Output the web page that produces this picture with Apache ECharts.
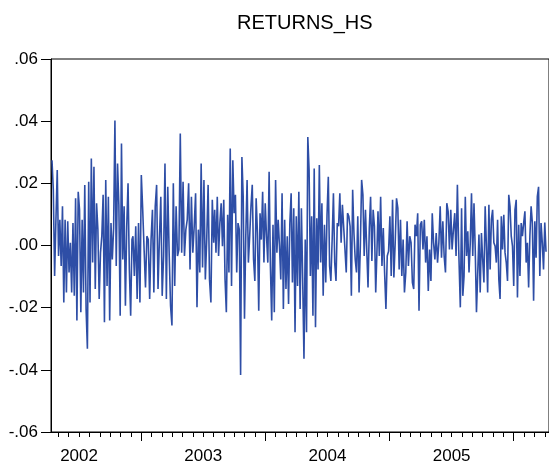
<!DOCTYPE html>
<html>
<head>
<meta charset="utf-8">
<script src="https://cdn.jsdelivr.net/npm/echarts@6/dist/echarts.min.js"></script>
<style>
html,body{margin:0;padding:0;background:#fff;overflow:hidden;}
#chart{width:549px;height:465px;}
</style>
</head>
<body>
<div id="chart"></div>
<script>
const ret2002 = [.0274,.0179,-.0098,.0083,.0243,-.0034,.0083,-.0066,.0126,-.0183,.0083,-.0151,.0078,-.0087,.0009,-.0151,.0072,-.0162,.0152,-.0241,.0173,.0115,-.0215,.0083,-.0151,.0195,-.0204,-.0332,.0205,-.0183,.0280,-.0055,.0253,-.0140,.0136,.0051,-.0172,-.0023,.0030,.0163,-.0247,.0211,-.0130,.0157,-.0241,.0072,-.0045,.0056,.0402,-.0066,.0264,.0131,-.0226,.0328,-.0045,.0126,-.0194,.0062,.0200,-.0077,-.0226,.0019];
const ret2003a = [.0030,-.0098,.0062,-.0172,.0072,-.0183,.0227,.0115,-.0013,-.0135,.0030,.0019,-.0172,.0019,.0115,-.0151,.0126,.0195,-.0140,.0019,.0157,-.0162,-.0034,.0264,-.0172,.0189,-.0023,-.0194,-.0257,.0200,-.0130,.0126,-.0034,-.0013,.0360,-.0023,.0205,-.0034,.0051,.0083,.0200,-.0077,.0157,-.0023,.0062,.0168,-.0199,.0051,-.0087,.0264,-.0071,.0211,-.0109,.0019,.0195,-.0109,-.0183,.0147,.0009];
const ret2003b = [.0115,-.0023,.0157,-.0034,.0072,.0136,-.0002,.0147,-.0109,-.0215,.0099,-.0087,.0312,-.0130,.0274,.0104,.0163,-.0087,.0072,.0051,-.0417,.0285,.0157,-.0236,.0030,.0211,-.0055,.0030,.0126,.0195,-.0045,-.0114,.0152,.0040,-.0210,.0104,.0019,.0173,-.0055,.0136,.0030,-.0055,.0237,-.0066,-.0241,.0067,-.0215,.0211,-.0023,.0083,-.0002,-.0109,.0168,-.0204,.0083,-.0140,.0030,-.0188,.0072,.0168,-.0119,.0120,-.0279];
const ret2004 = [.0094,-.0130,.0173,-.0204,.0120,-.0109,-.0364,.0019,-.0279,.0349,.0243,-.0098,.0094,-.0226,.0248,-.0263,.0088,-.0077,.0259,-.0055,.0136,-.0162,.0067,-.0119,.0099,.0221,-.0066,-.0114,.0019,.0168,-.0055,-.0114,.0072,.0062,.0168,.0009,.0131,.0126,-.0013,-.0087,.0104,.0094,.0062,-.0162,.0179,.0040,-.0045,-.0087,.0094,-.0151,-.0002,.0211,.0163,-.0034,.0115,-.0013,-.0135,.0056,.0157,-.0050,.0115,.0062,-.0151,-.0013];
const ret2005a = [.0110,-.0034,.0157,-.0066,.0056,-.0087,-.0204,-.0034,-.0018,.0094,-.0098,.0147,-.0103,.0009,.0152,.0120,-.0077,.0083,-.0098,.0019,-.0151,-.0087,.0078,-.0066,.0030,.0009,-.0119,-.0140,.0067,.0030,.0104,-.0210,.0067,.0078,-.0013,.0083,-.0055,.0030,-.0146,-.0013,-.0114,.0104,.0009,-.0045,.0040,-.0055,.0009,.0126,-.0039,.0078,-.0034,-.0087,.0136,.0110,-.0013,.0115,-.0013,.0051,.0104,-.0034,.0195,-.0013];
const ret2005b = [-.0007,-.0199,.0120,-.0162,-.0098,.0157,-.0034,.0046,-.0087,.0009,.0168,-.0034,.0136,-.0013,-.0215,-.0220,.0035,-.0151,.0040,-.0045,-.0119,.0126,-.0002,-.0151,.0131,-.0077,.0083,.0115,.0009,-.0002,-.0055,.0083,-.0109,-.0172,.0094,-.0013,.0099,-.0023,-.0055,-.0114,.0163,.0126,.0030,-.0002,-.0130,.0115,.0147,-.0167,.0067,-.0098,.0072,.0030,.0072,.0110,-.0055,.0009,-.0135,.0030,.0126,.0072,-.0178,.0078,-.0039,.0157,.0189,-.0098,.0072,.0009,-.0077,.0074,-.0020];

// Date span (fractional years) of each stretch: first and last observation.
const stretchStart = [2002.282, 2002.934, 2003.592, 2004.249, 2004.907, 2005.560];
const stretchEnd   = [2002.926, 2003.584, 2004.239, 2004.899, 2005.557, 2006.260];

// Axis range and labels
const xMin = 2002.274, xMax = 2006.284;
const yearLabels = ['2002', '2003', '2004', '2005'];
const yearBoundaries = [2003, 2004, 2005, 2006];
const yTicks = [-0.06, -0.04, -0.02, 0, 0.02, 0.04, 0.06];

const stretches = [ret2002, ret2003a, ret2003b, ret2004, ret2005a, ret2005b];
const seriesData = [];
stretches.forEach((vals, s) => {
  const a = stretchStart[s], b = stretchEnd[s];
  vals.forEach((v, i) => {
    seriesData.push([a + (b - a) * i / (vals.length - 1), v]);
  });
});

const monthTicks = [];
for (let y = 2002; y <= 2006; y++) {
  for (let m = 1; m < 12; m++) {
    const t = y + m / 12;
    if (t > xMin && t < xMax) monthTicks.push(t);
  }
}
const labelPos = yearLabels.map(y => Number(y) + 0.5);

const FONT = 'Liberation Sans, Arial, Helvetica, sans-serif';
const chart = echarts.init(document.getElementById('chart'), null, {renderer: 'canvas'});
chart.setOption({
  animation: false,
  backgroundColor: '#fff',
  title: {
    text: 'RETURNS_HS',
    left: 232,
    top: 8,
    textStyle: {fontFamily: FONT, fontSize: 20, fontWeight: 'normal', color: '#000'}
  },
  grid: {left: 51, right: -2, top: 59, bottom: 32, show: true, borderColor: '#000', borderWidth: 1, containLabel: false},
  xAxis: [{
    type: 'value', min: xMin, max: xMax, position: 'bottom',
    axisLine: {show: true, onZero: false, lineStyle: {color: '#000', width: 1}},
    axisTick: {show: true, customValues: monthTicks, length: 5, lineStyle: {color: '#000'}},
    axisLabel: {show: true, customValues: labelPos, formatter: v => String(Math.floor(v)),
      fontFamily: FONT, fontSize: 17, color: '#000', margin: 16},
    splitLine: {show: false}
  }, {
    type: 'value', min: xMin, max: xMax, position: 'bottom', offset: 0,
    axisLine: {show: false, onZero: false},
    axisTick: {show: true, customValues: yearBoundaries, length: 9, lineStyle: {color: '#000'}},
    axisLabel: {show: false},
    splitLine: {show: false}
  }],
  yAxis: {
    type: 'value', min: -0.06, max: 0.06, interval: 0.02,
    axisLine: {show: true, onZero: false, lineStyle: {color: '#000', width: 1}},
    axisTick: {show: true, customValues: yTicks, length: 10, lineStyle: {color: '#000'}},
    axisLabel: {fontFamily: FONT, fontSize: 17, color: '#000', margin: 13,
      formatter: v => v.toFixed(2).replace('0.', '.')},
    splitLine: {show: false}
  },
  series: [{
    type: 'line', xAxisIndex: 0, data: seriesData, showSymbol: false,
    lineStyle: {color: '#2E4EA6', width: 1.6}, itemStyle: {color: '#2E4EA6'}
  }]
});
</script>
</body>
</html>
